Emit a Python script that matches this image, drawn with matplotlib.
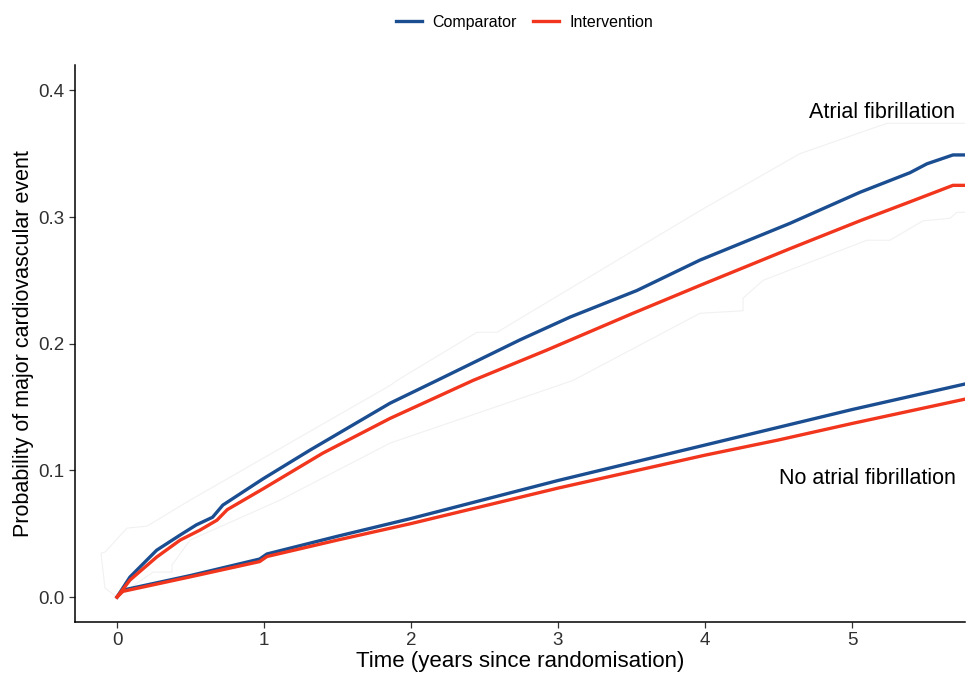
import matplotlib
matplotlib.use("Agg")
import matplotlib.pyplot as plt
import numpy as np

plt.rcParams['font.family'] = ['Liberation Sans', 'DejaVu Sans']

# Atrial fibrillation curves
af_t_comp = [0, 0.088, 0.27, 0.43, 0.54, 0.65, 0.72, 0.993, 1.313, 1.857, 2.177, 2.741,
             3.082, 3.537, 3.966, 4.578, 5.054, 5.395, 5.51, 5.687, 5.80]
af_p_comp = [0, 0.0158, 0.037, 0.049, 0.057, 0.063, 0.0726, 0.0933, 0.116, 0.153, 0.171, 0.203,
             0.221, 0.242, 0.266, 0.295, 0.3195, 0.335, 0.342, 0.349, 0.349]
af_t_int = [0, 0.088, 0.27, 0.43, 0.565, 0.68, 0.75, 0.993, 1.40, 1.857, 2.422, 2.925,
            3.51, 3.966, 4.578, 5.054, 5.395, 5.687, 5.80]
af_p_int = [0, 0.0134, 0.0316, 0.045, 0.0529, 0.0607, 0.069, 0.0854, 0.1136, 0.141, 0.171, 0.195,
            0.224, 0.246, 0.275, 0.297, 0.312, 0.325, 0.325]

# No atrial fibrillation curves
noaf_t = [0, 0.04, 0.5, 0.97, 1.02, 1.5, 2.0, 2.5, 3.0, 3.5, 4.0, 4.5, 5.0, 5.80]
noaf_p_comp = [0, 0.0055, 0.017, 0.030, 0.034, 0.048, 0.062, 0.077, 0.092, 0.106, 0.120, 0.134, 0.148, 0.169]
noaf_p_int = [0, 0.0045, 0.016, 0.028, 0.032, 0.045, 0.058, 0.072, 0.086, 0.099, 0.112, 0.124, 0.137, 0.157]

# faint confidence band around the AF curves
band_up_t = [0, -0.082, -0.109, -0.082, 0.068, 0.204, 0.497, 1.857, 1.905, 2.449, 2.585,
             3.966, 4.646, 5.238, 5.80]
band_up_p = [0, 0.0071, 0.0347, 0.0355, 0.0544, 0.056, 0.0765, 0.167, 0.171, 0.209, 0.209,
             0.305, 0.350, 0.374, 0.374]
band_lo_t = [0, 0.245, 0.374, 0.374, 0.497, 1.109, 1.857, 3.102, 3.966, 4.259, 4.259,
             4.395, 5.102, 5.259, 5.483, 5.667, 5.714, 5.80]
band_lo_p = [0, 0.0197, 0.0197, 0.0252, 0.045, 0.0765, 0.1215, 0.171, 0.224, 0.226, 0.236,
             0.250, 0.2817, 0.2817, 0.297, 0.299, 0.3037, 0.3037]

blue = '#1B4D91'
red = '#F2351D'

fig = plt.figure(figsize=(9.7, 6.75), dpi=100)
ax = fig.add_axes([0.0773, 0.0785, 0.9177, 0.8252])

# band outline
bx = band_up_t + band_lo_t[::-1]
by = band_up_p + band_lo_p[::-1]
ax.fill(bx, by, facecolor='white', edgecolor='#f1f1f1', linewidth=0.8, zorder=1)

ax.plot(af_t_comp, af_p_comp, color=blue, lw=2.4, zorder=3, label='Comparator')
ax.plot(af_t_int, af_p_int, color=red, lw=2.4, zorder=4, label='Intervention')
ax.plot(noaf_t, noaf_p_comp, color=blue, lw=2.4, zorder=3)
ax.plot(noaf_t, noaf_p_int, color=red, lw=2.4, zorder=4)

ax.text(5.70, 0.3826, 'Atrial fibrillation', ha='right', va='center', fontsize=15.5)
ax.text(5.71, 0.0939, 'No atrial fibrillation', ha='right', va='center', fontsize=15.5)

ax.set_xlim(-0.286, 5.77)
ax.set_ylim(-0.0197, 0.42)
ax.set_xticks([0, 1, 2, 3, 4, 5])
ax.set_yticks([0.0, 0.1, 0.2, 0.3, 0.4])
ax.set_yticklabels(['0.0', '0.1', '0.2', '0.3', '0.4'])
ax.tick_params(labelsize=13.5, length=4, width=0.9, colors='#333333', labelcolor='#303030')
for s in ['top', 'right']:
    ax.spines[s].set_visible(False)
for s in ['left', 'bottom']:
    ax.spines[s].set_linewidth(1.1)
    ax.spines[s].set_color('black')

ax.set_xlabel('Time (years since randomisation)', fontsize=16, labelpad=1)
ax.set_ylabel('Probability of major cardiovascular event', fontsize=15.5, labelpad=3)

fig.legend(loc='center', bbox_to_anchor=(0.541, 0.967), ncol=2, frameon=False,
           fontsize=11.5, handlelength=1.6, columnspacing=1.0, handletextpad=0.7)

fig.savefig('out.png', dpi=100)
